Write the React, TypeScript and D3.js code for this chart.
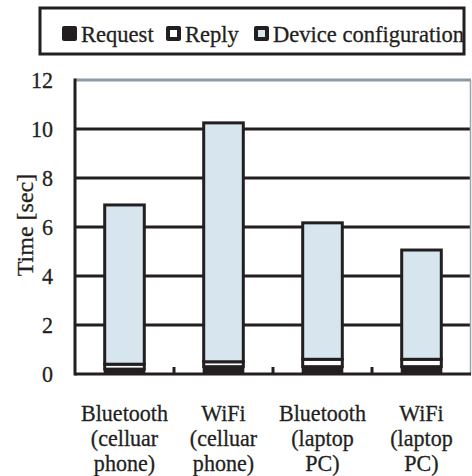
import React from 'react';
import * as d3 from 'd3';

const categories = ['bt-phone', 'wifi-phone', 'bt-pc', 'wifi-pc'];
const categoryLines = [
    ['Bluetooth', '(celluar', 'phone)'],
    ['WiFi', '(celluar', 'phone)'],
    ['Bluetooth', '(laptop', 'PC)'],
    ['WiFi', '(laptop', 'PC)'],
];
const request = [0.2, 0.3, 0.3, 0.3];
const reply = [0.2, 0.2, 0.3, 0.3];
const deviceConfig = [6.5, 9.75, 5.57, 4.46];
const yTicks = [0, 2, 4, 6, 8, 10, 12];

const seriesNames = ['Request', 'Reply', 'Device configuration'];
const seriesColors = ['#231f20', '#ffffff', '#d7e6ee'];

const W = 472;
const H = 476;
const FONT = '"Liberation Serif", "Times New Roman", serif';
const INK = '#231f20';

const App = () => {
    const left = 75, right = 471, top = 80, bottom = 374;

    const x = d3.scaleBand<string>()
        .domain(categories)
        .range([left, right])
        .paddingInner(0.6)
        .paddingOuter(0.3);

    const y = d3.scaleLinear().domain([0, 12]).range([bottom, top]);

    const rows = categories.map((c, i) => ({
        key: c,
        Request: request[i],
        Reply: reply[i],
        'Device configuration': deviceConfig[i],
    }));
    const stacked = d3.stack<any>().keys(seriesNames)(rows);

    // boundaries between the categories
    const seps = categories.slice(1).map(c => x(c)! - x.step() * x.paddingInner() / 2);

    const squeeze = (tx: number, ty: number, k = 0.92) => `translate(${tx},${ty}) scale(${k},1)`;

    const legendItems = [
        {name: 'Request', sx: 62, tx: 81},
        {name: 'Reply', sx: 166, tx: 185},
        {name: 'Device configuration', sx: 254, tx: 273},
    ];

    return (
        <svg width={W} height={H} style={{position: 'absolute', left: 0, top: 0}} fontFamily={FONT}>
            <rect width={W} height={H} fill="#fff"/>

            {/* legend */}
            <rect x={40} y={8} width={424} height={46} fill="#fff" stroke={INK} strokeWidth={3}/>
            {legendItems.map((d, i) => (
                <g key={d.name}>
                    <rect x={d.sx} y={26} width={15} height={15} rx={2}
                          fill={INK}/>
                    {i > 0 && <rect x={d.sx + 4} y={30} width={7} height={7} fill={seriesColors[i]}/>}
                    <text transform={squeeze(d.tx, 42, 0.94)} fontSize={24} fill={INK}
                          stroke={INK} strokeWidth={0.3}>{d.name}</text>
                </g>
            ))}

            {/* gridlines */}
            {yTicks.filter(t => t > 0 && t < 12).map(t => (
                <line key={t} x1={left} x2={right} y1={y(t)} y2={y(t)} stroke={INK} strokeWidth={3}/>
            ))}
            <line x1={left} x2={right} y1={y(12)} y2={y(12)} stroke="#8c9aa3" strokeWidth={3}/>
            <line x1={right - 0.5} x2={right - 0.5} y1={top} y2={bottom} stroke="#9aa6ad" strokeWidth={1.5}/>

            {/* bars */}
            {stacked.map((s, si) => (
                <g key={s.key}>
                    {s.map((d, i) => (
                        <rect key={i}
                              x={x(categories[i])}
                              width={x.bandwidth()}
                              y={y(d[1])}
                              height={y(d[0]) - y(d[1])}
                              fill={seriesColors[si]}
                              stroke={INK}
                              strokeWidth={si === 0 ? 2 : 3}/>
                    ))}
                </g>
            ))}

            {/* axes */}
            <line x1={left} x2={right} y1={bottom} y2={bottom} stroke={INK} strokeWidth={3}/>
            <line x1={left} x2={left} y1={top - 1.5} y2={bottom + 1.5} stroke={INK} strokeWidth={3}/>
            {seps.map((sx, i) => (
                <line key={i} x1={sx} x2={sx} y1={bottom} y2={bottom - 7} stroke={INK} strokeWidth={3}/>
            ))}

            <g fill={INK} stroke={INK} strokeWidth={0.3} fontSize={24}>
                {yTicks.map(t => (
                    <text key={t} transform={squeeze(53, y(t) + 8)} textAnchor="end">{t}</text>
                ))}

                <text transform={`translate(33,225) rotate(-90)`} textAnchor="middle">Time [sec]</text>

                {categories.map((c, i) => (
                    <g key={c}>
                        {categoryLines[i].map((line, li) => (
                            <text key={li} transform={squeeze(x(c)! + x.bandwidth() / 2, 421 + li * 25)}
                                  textAnchor="middle">{line}</text>
                        ))}
                    </g>
                ))}
            </g>
        </svg>
    );
};

export default App;
